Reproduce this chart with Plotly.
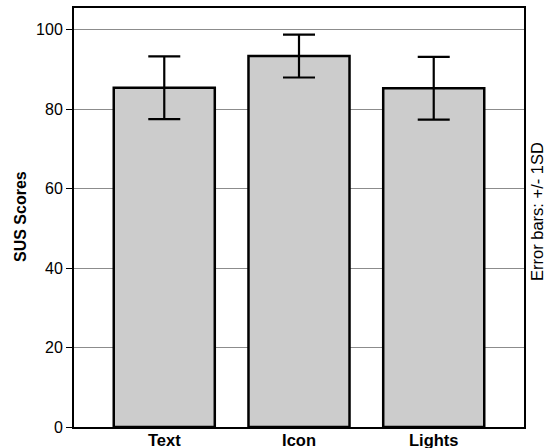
import plotly.graph_objects as go

# SUS scores per interface condition (mean and standard deviation)
conditions = ["Text", "Icon", "Lights"]
mean_scores = [85.4, 93.4, 85.3]
sd_scores = [7.9, 5.4, 7.9]
y_ticks = [0, 20, 40, 60, 80, 100]

font_family = "Liberation Sans, Arial, sans-serif"

# Plot-area margins in pixels
ML, MR, MT, MB = 74, 24, 8, 21
W, H = 548, 448

fig = go.Figure()
fig.add_trace(go.Bar(
    x=conditions,
    y=mean_scores,
    width=0.75,
    marker=dict(color="#cccccc", line=dict(color="black", width=2.5)),
    error_y=dict(type="data", array=sd_scores, visible=True,
                 color="black", thickness=2.2, width=16),
    showlegend=False,
))

fig.update_layout(
    width=W, height=H,
    margin=dict(l=ML, r=MR, t=MT, b=MB, autoexpand=False),
    plot_bgcolor="white", paper_bgcolor="white",
    font=dict(family=font_family, color="black"),
    xaxis=dict(
        range=[-0.67, 2.67],
        automargin=False,
        showline=True, linecolor="black", linewidth=2, mirror=True,
        ticks="", showgrid=False,
        tickfont=dict(size=16.5, family=font_family, weight="bold"),
        ticklabelstandoff=-3,
    ),
    yaxis=dict(
        range=[0, 105.5],
        automargin=False,
        tickvals=y_ticks,
        showline=True, linecolor="black", linewidth=2, mirror=True,
        ticks="outside", ticklen=6, tickwidth=1, tickcolor="black",
        showgrid=True, gridcolor="#8c8c8c", gridwidth=1,
        tickfont=dict(size=16, family=font_family),
        zeroline=False,
    ),
)

# Side texts placed by page pixel position
def page_to_paper(px, py):
    return (px - ML) / (W - ML - MR), (H - MB - py) / (H - MT - MB)

for text, px, py, size in [("<b>SUS Scores</b>", 20, 217, 16),
                           ("Error bars: +/- 1SD", 537, 212, 16.5)]:
    ax, ay = page_to_paper(px, py)
    fig.add_annotation(text=text, x=ax, y=ay, xref="paper", yref="paper",
                       xanchor="center", yanchor="middle", showarrow=False,
                       textangle=-90, font=dict(size=size, family=font_family))

fig.write_html("out.html")
